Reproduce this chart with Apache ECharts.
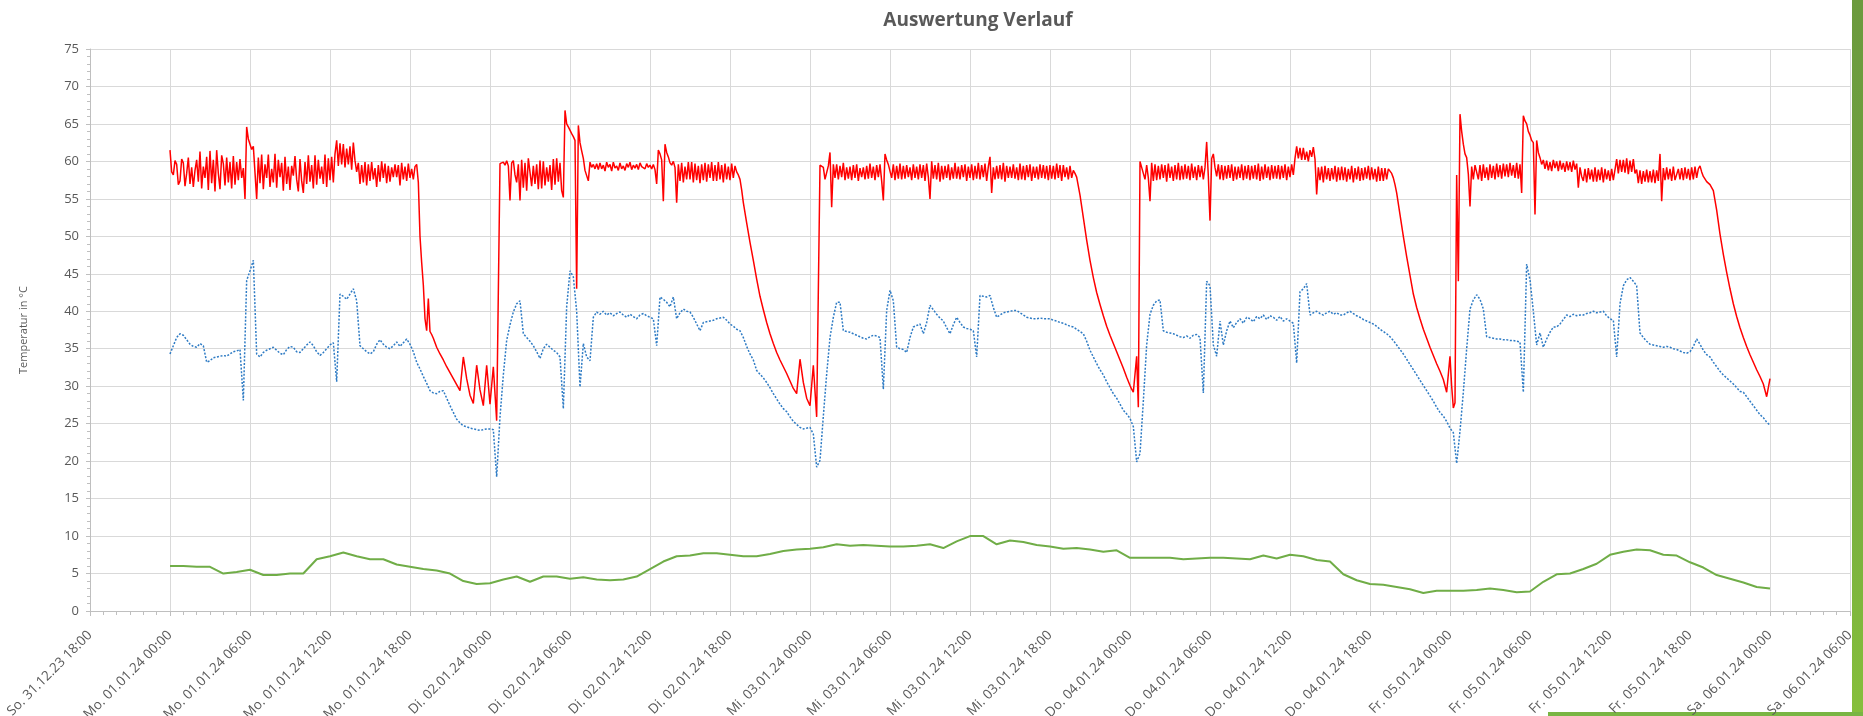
<!DOCTYPE html>
<html>
<head>
<meta charset="utf-8">
<script src="https://cdn.jsdelivr.net/npm/echarts@6/dist/echarts.min.js"></script>
<style>
html,body{margin:0;padding:0;background:#fff;}
#chart{width:1863px;height:716px;}
</style>
</head>
<body>
<div id="chart"></div>
<script>
// x axis tick labels, one every 6 hours starting at So. 31.12.23 18:00 (hour -6)
const tickLabels = [
  'So. 31.12.23 18:00',
  'Mo. 01.01.24 00:00','Mo. 01.01.24 06:00','Mo. 01.01.24 12:00','Mo. 01.01.24 18:00',
  'Di. 02.01.24 00:00','Di. 02.01.24 06:00','Di. 02.01.24 12:00','Di. 02.01.24 18:00',
  'Mi. 03.01.24 00:00','Mi. 03.01.24 06:00','Mi. 03.01.24 12:00','Mi. 03.01.24 18:00',
  'Do. 04.01.24 00:00','Do. 04.01.24 06:00','Do. 04.01.24 12:00','Do. 04.01.24 18:00',
  'Fr. 05.01.24 00:00','Fr. 05.01.24 06:00','Fr. 05.01.24 12:00','Fr. 05.01.24 18:00',
  'Sa. 06.01.24 00:00','Sa. 06.01.24 06:00'
];

// red series: one row per hour since Mo. 01.01.24 00:00, samples evenly spread over the hour
const redRows = [
[61.5,58.6,58.2,60.1,59.6,56.9,57.4,60.3],
[59.8,56.7,58.4,60.5,57.0,59.2,56.6,58.8],
[60.2,57.3,61.3,56.4,59.3,57.8,60.6,56.2],
[61.4,57.1,60.2,56.0,61.5,58.4,56.3,60.8],
[59.7,56.8,60.5,57.2,59.9,56.4,60.7,56.9],
[59.9,57.5,60.3,57.8,59.1,55.0,64.6,63.0],
[62.3,61.6,62.0,61.8,55.0,60.5,57.1,60.9],
[56.3,59.6,57.8,60.9,56.6,59.0,57.2,61.0],
[56.5,60.2,57.9,59.8,56.1,60.6,57.0,59.3],
[56.2,59.4,58.1,60.7,57.6,56.0,60.3,57.4],
[55.8,59.9,57.0,60.8,57.3,59.5,56.4,60.8],
[56.9,60.2,57.7,59.3,57.0,60.9,56.6,60.4],
[57.5,60.6,57.2,61.0,62.8,59.4,62.4,59.6],
[62.3,59.2,61.7,59.6,62.0,58.9,62.5,60.1],
[58.6,59.8,57.0,59.5,57.2,59.9,56.8,59.6],
[57.4,59.9,57.6,59.1,56.6,59.5,57.3,60.0],
[57.8,59.7,57.1,59.4,57.3,59.2,57.9,59.6],
[57.9,59.5,56.8,59.8,57.6,59.3,57.4,59.7],
[57.8,59.0,57.6,59.3,59.6,57.2,50.0,46.5],
[43.5,39.0,37.4,41.7,37.3,36.9,36.4,35.8],
[35.2,34.3,33.5,32.6],
[31.8,31.0,30.2,29.4],
[33.9,31.0,28.8,27.7],
[32.8,29.5,27.4,32.8],
[27.6,32.6,25.4,59.7],
[59.9,59.5,60.1,59.4,54.8,59.8,60.1,58.2],
[57.2,59.6,54.8,60.2,56.5,59.8,56.1,60.4],
[60.2,56.7,59.4,57.0,59.6,56.3,60.1,56.4],
[60.0,56.8,59.2,57.3,59.5,56.2,60.3,56.9],
[60.4,57.3,59.8,56.1,55.2,66.8,65.0,64.6],
[64.6,63.7,63.3,62.8,43.0,64.8,62.5,61.4],
[60.4,58.8,58.1,57.4,59.9,59.2,59.6,59.0],
[59.7,58.9,59.8,59.0,59.5,58.7,59.9,59.2],
[59.6,58.7,59.9,59.1,59.4,58.8,59.8,59.0],
[59.4,58.8,59.7,59.2,59.9,58.9,59.5,59.1],
[59.6,58.9,59.8,59.3,59.5,59.0,59.7,59.2],
[59.5,59.0,59.6,58.9,57.0,61.5,61.0,60.2],
[54.7,62.3,61.2,60.6,59.8,59.5,60.0,59.2],
[54.5,59.6,57.4,59.8,57.2,59.3,57.6,59.9],
[57.6,59.9,57.2,59.7,57.5,59.4,57.1,59.6],
[57.5,59.8,57.3,59.6,57.8,59.9,57.4,59.5],
[57.4,59.9,57.6,59.5,57.2,59.7,57.6,59.3],
[57.5,59.7,57.8,59.4,58.6,58.2,57.6,56.2],
[54.5,51.8,49.2,46.8],
[44.3,42.0,40.2,38.5],
[37.0,35.7,34.5,33.5],
[32.6,31.7,30.7,29.7],
[29.0,33.6,30.5,28.4],
[27.4,32.8,25.9,59.5],
[59.2,57.6,57.8,59.4,61.2,53.9,59.6,57.8],
[59.6,57.6,59.4,57.9,59.8,57.5,59.2,57.7],
[59.3,57.5,59.5,57.8,59.6,57.4,59.1,57.9],
[59.2,57.6,59.4,57.7,59.7,57.8,59.3,57.5],
[59.5,57.9,59.6,57.4,54.8,61.0,60.2,59.6],
[59.8,57.8,59.6,57.5,59.4,57.7,59.7,57.6],
[59.4,57.7,59.5,57.9,59.2,57.5,59.6,57.8],
[59.3,57.6,59.6,57.8,59.5,57.4,59.7,57.9],
[55.0,60.0,57.7,59.5,57.6,59.8,57.3,59.4],
[57.6,59.4,57.8,59.6,57.5,59.2,57.7,59.8],
[57.7,59.3,57.6,59.5,57.9,59.6,57.4,59.3],
[57.8,59.6,57.5,59.4,57.7,59.8,57.6,59.5],
[57.9,59.7,57.4,59.3,60.6,55.8,59.2,57.6],
[59.4,57.7,59.5,57.6,59.8,57.3,59.4,57.8],
[59.3,57.8,59.6,57.7,59.2,57.5,59.7,57.6],
[59.4,57.5,59.5,57.9,59.6,57.4,59.3,57.8],
[59.3,57.6,59.6,57.8,59.5,57.7,59.4,57.5],
[59.5,57.7,59.4,57.6,59.7,57.8,59.5,57.4],
[59.5,57.9,59.2,57.6,59.4,57.8,58.8,58.4],
[57.9,55.5,52.5,49.5],
[46.8,44.5,42.5,40.9],
[39.4,38.0,36.8,35.7],
[34.6,33.5,32.4,31.2],
[30.1,29.6,29.2,29.0,34.0,27.2,60.0,59.2],
[59.3,57.6,59.5,57.8,54.7,59.8,57.4,59.6],
[57.5,59.4,57.6,59.6,57.8,59.5,57.3,59.7],
[57.8,59.3,57.4,59.5,57.6,59.8,57.5,59.4],
[57.6,59.6,57.7,59.4,57.5,59.7,57.8,59.3],
[57.5,59.5,57.9,59.4,57.6,59.2,62.6,58.0],
[52.1,60.4,61.0,59.2,58.0,59.6,57.6,59.5],
[57.5,59.4,57.7,59.5,57.8,59.6,57.4,59.3],
[57.6,59.3,57.8,59.6,57.5,59.4,57.7,59.5],
[57.5,59.4,57.7,59.5,57.6,59.7,57.4,59.3],
[57.6,59.6,57.8,59.3,57.5,59.5,57.7,59.4],
[57.7,59.5,57.6,59.4,57.8,59.6,57.5,59.3],
[57.9,59.6,58.2,60.4,62.0,60.4,61.8,60.2],
[61.8,60.2,61.3,60.0,61.5,60.6,61.9,60.3],
[55.6,59.2,57.5,59.3,57.2,59.4,57.6,59.1],
[57.4,59.1,57.6,59.4,57.3,59.2,57.5,59.3],
[57.5,59.2,57.3,59.0,57.6,59.4,57.2,59.1],
[57.6,59.3,57.4,59.1,57.5,59.2,57.7,59.4],
[57.5,59.2,57.6,59.0,57.3,59.3,57.4,59.1],
[57.4,59.1,57.6,59.0,58.8,58.4,57.8,56.9],
[55.8,52.9,50.0,47.3],
[44.8,42.3,40.5,39.0],
[37.6,36.4,35.2,34.1],
[33.0,32.0,30.9,29.2],
[34.0,30.0,27.1,27.8,58.2,44.0,66.3,64.0],
[62.3,61.0,60.5,58.3,54.0,59.3,57.6,59.5],
[59.3,57.6,59.5,57.4,59.6,57.8,59.2,57.5],
[59.6,57.8,59.4,57.6,59.7,57.9,59.5,57.7],
[59.7,58.0,59.6,57.9,59.8,58.1,59.5,57.8],
[59.8,57.7,59.6,55.8,66.1,65.4,65.0,64.0],
[63.5,62.8,62.5,52.9,62.8,61.2,60.5,59.6],
[60.2,59.0,60.1,58.8,59.9,58.7,60.2,59.1],
[60.0,58.7,60.1,58.9,59.8,58.6,60.0,58.8],
[59.9,58.6,60.1,58.9,59.7,56.5,59.2,58.0],
[57.4,59.0,57.2,59.1,57.6,58.9,57.3,59.2],
[57.3,58.9,57.5,59.2,57.2,59.0,57.6,58.8],
[57.4,59.0,57.5,58.9,60.3,58.4,60.2,58.6],
[60.2,58.5,60.4,58.3,60.1,58.6,60.3,58.4],
[58.9,57.1,58.8,57.0,58.7,57.3,58.9,57.2],
[58.7,57.2,58.9,57.1,58.8,57.4,61.0,54.7],
[59.1,57.5,59.2,57.6,59.0,57.4,59.3,57.5],
[57.4,59.0,57.6,59.1,57.5,59.2,57.7,59.0],
[57.5,59.2,57.6,59.3,57.8,59.0,59.4,58.6],
[58.0,57.3,56.9,56.1],
[53.5,50.3,47.6,45.2],
[43.0,41.0,39.3,37.8],
[36.5,35.3,34.2,33.2],
[32.2,31.3,30.3,28.6],
[31.0]
];

// blue series: one row per hour, values every 15 minutes
const blueRows = [
[34.3,35.4,36.5,37.0],
[36.8,36.2,35.6,35.3],
[35.2,35.7,35.4,33.2],
[33.4,33.8,33.9,34.0],
[34.1,34.0,34.3,34.6],
[34.7,34.9,28.1,44.1],
[45.4,46.8,34.3,33.9],
[34.5,34.8,35.0,35.2],
[34.8,34.4,34.2,34.9],
[35.3,35.2,34.6,34.5],
[35.0,35.5,35.9,35.4],
[34.6,34.1,34.5,35.0],
[35.5,35.8,30.6,42.3],
[42.0,41.6,42.3,43.0],
[41.4,35.4,35.0,34.6],
[34.3,34.6,35.6,36.2],
[35.6,35.2,35.0,35.4],
[35.9,35.3,35.8,36.3],
[35.6,34.6,33.2,32.3],
[31.3,30.4,29.4,29.1],
[29.0,29.3,29.4,28.4],
[27.4,26.5,25.6,25.1],
[24.7,24.6,24.4,24.3],
[24.2,24.1,24.2,24.3],
[24.3,24.2,17.9,25.9],
[31.5,36.1,38.2,39.9],
[41.0,41.4,37.0,36.5],
[36.0,35.4,34.6,33.7],
[35.0,35.6,35.2,34.8],
[34.5,33.9,27.0,40.6],
[45.4,44.6,40.0,29.9],
[35.7,33.9,33.4,39.2],
[39.9,39.6,40.0,39.5],
[39.8,39.4,39.7,39.9],
[39.5,39.2,39.6,39.3],
[39.0,39.5,39.7,39.4],
[39.2,39.0,35.4,41.9],
[41.6,41.2,40.6,41.9],
[39.0,39.8,40.3,40.0],
[39.9,39.2,38.3,37.4],
[38.5,38.6,38.7,38.8],
[39.0,39.1,39.2,38.8],
[38.3,38.0,37.6,37.4],
[36.5,35.3,34.3,33.5],
[32.1,31.6,31.1,30.5],
[29.8,29.0,28.3,27.6],
[27.0,26.6,25.9,25.3],
[24.9,24.5,24.3,24.4],
[24.5,23.6,19.2,20.1],
[26.0,31.6,36.5,39.2],
[41.2,41.2,37.4,37.3],
[37.2,37.0,36.8,36.6],
[36.4,36.3,36.6,36.8],
[36.7,36.5,29.6,40.1],
[42.8,41.4,35.2,35.0],
[34.9,34.5,36.5,37.9],
[38.1,38.3,37.0,38.5],
[40.8,40.2,39.6,39.1],
[38.7,37.8,37.0,38.2],
[39.2,38.5,37.9,37.7],
[37.6,37.4,33.9,42.1],
[42.0,41.9,42.1,40.5],
[39.2,39.5,39.8,39.9],
[40.0,40.1,40.1,39.8],
[39.5,39.2,39.1,39.0],
[39.0,39.1,39.0,39.0],
[39.0,38.8,38.7,38.5],
[38.4,38.2,38.0,37.9],
[37.6,37.3,37.0,36.0],
[34.8,33.9,33.0,32.2],
[31.5,30.6,29.8,29.0],
[28.4,27.6,26.8,26.3],
[25.7,24.6,19.9,21.0],
[28.0,35.5,39.6,40.8],
[41.4,41.5,37.4,37.2],
[37.1,37.0,36.8,36.6],
[36.5,36.7,36.4,36.8],
[36.9,36.5,29.1,44.0],
[43.4,35.5,34.0,38.7],
[35.5,37.4,38.7,37.8],
[38.5,39.0,38.4,39.2],
[39.0,38.6,39.3,39.0],
[39.5,38.9,39.4,39.2],
[38.8,39.3,38.7,39.0],
[38.7,38.4,33.1,42.6],
[43.0,43.7,39.5,39.8],
[40.0,39.7,39.5,39.8],
[40.0,39.6,39.8,39.5],
[39.5,39.8,40.0,39.7],
[39.4,39.2,38.9,38.7],
[38.5,38.3,38.0,37.6],
[37.3,37.0,36.6,36.1],
[35.5,34.9,34.3,33.6],
[32.9,32.2,31.5,30.8],
[30.1,29.4,28.7,28.0],
[27.2,26.5,26.0,25.3],
[24.4,23.8,19.7,24.0],
[29.2,35.0,40.3,41.5],
[42.2,41.6,40.3,36.6],
[36.5,36.4,36.3,36.3],
[36.2,36.2,36.1,36.1],
[36.0,35.9,29.2,46.3],
[44.2,40.0,35.5,37.1],
[35.2,36.3,37.2,37.9],
[37.9,38.3,38.9,39.5],
[39.3,39.6,39.4,39.5],
[39.5,39.7,39.8,40.0],
[39.8,39.9,40.0,39.4],
[39.0,38.8,33.9,41.0],
[43.4,44.2,44.5,44.0],
[43.4,37.1,36.5,36.0],
[35.6,35.5,35.4,35.3],
[35.2,35.3,35.2,35.0],
[34.9,34.7,34.5,34.4],
[34.6,35.3,36.3,35.6],
[34.8,34.2,33.9,33.2],
[32.6,32.0,31.5,31.1],
[30.7,30.3,29.8,29.3],
[29.2,28.6,28.0,27.4],
[26.8,26.2,25.8,25.2],
[24.8]
];

// green series: hourly values since Mo. 01.01.24 00:00
const greenValues = [
6.0,6.0,5.9,5.9,5.0,5.2,5.5,4.8,4.8,5.0,5.0,6.9,7.3,7.8,7.3,6.9,6.9,6.2,5.9,5.6,
5.4,5.0,4.0,3.6,3.7,4.2,4.6,3.9,4.6,4.6,4.3,4.5,4.2,4.1,4.2,4.6,5.6,6.6,7.3,7.4,
7.7,7.7,7.5,7.3,7.3,7.6,8.0,8.2,8.3,8.5,8.9,8.7,8.8,8.7,8.6,8.6,8.7,8.9,8.4,9.3,
10.0,10.0,8.9,9.4,9.2,8.8,8.6,8.3,8.4,8.2,7.9,8.1,7.1,7.1,7.1,7.1,6.9,7.0,7.1,7.1,
7.0,6.9,7.4,7.0,7.5,7.3,6.8,6.6,4.9,4.1,3.6,3.5,3.2,2.9,2.4,2.7,2.7,2.7,2.8,3.0,
2.8,2.5,2.6,3.9,4.9,5.0,5.6,6.3,7.5,7.9,8.2,8.1,7.5,7.4,6.5,5.8,4.8,4.3,3.8,3.2,
3.0
];

const yTicks = [0,5,10,15,20,25,30,35,40,45,50,55,60,65,70,75];

function rowsToPoints(rows) {
  const pts = [];
  rows.forEach((row, h) => row.forEach((v, j) => pts.push([h + j / row.length, v])));
  return pts;
}
const redData = rowsToPoints(redRows);
const blueData = rowsToPoints(blueRows);
const greenData = greenValues.map((v, i) => [i, v]);

const FONT = '"Open Sans", "Noto Sans", sans-serif';
const chart = echarts.init(document.getElementById('chart'), null, {renderer: 'canvas'});
chart.setOption({
  animation: false,
  backgroundColor: '#ffffff',
  grid: {left: 90, right: 13, top: 49, bottom: 105, containLabel: false, outerBoundsMode: 'none'},
  xAxis: {
    type: 'value', min: -6, max: 126, interval: 6,
    axisLine: {show: true, onZero: false, lineStyle: {color: '#bfbfbf', width: 1}},
    axisTick: {show: true, length: 5, lineStyle: {color: '#bfbfbf'}},
    minorTick: {show: true, splitNumber: 6, length: 4, lineStyle: {color: '#bfbfbf'}},
    splitLine: {show: true, lineStyle: {color: '#d9d9d9', width: 1}},
    axisLabel: {
      rotate: 45, margin: 22, fontSize: 13.5, color: '#595959', fontFamily: FONT,
      showMinLabel: true, showMaxLabel: true,
      formatter: v => tickLabels[Math.round((v + 6) / 6)] || ''
    }
  },
  yAxis: {
    type: 'value', min: yTicks[0], max: yTicks[yTicks.length - 1], interval: 5,
    name: 'Temperatur in °C', nameLocation: 'middle', nameGap: 61, nameRotate: 90,
    nameTextStyle: {fontSize: 11, color: '#595959', fontFamily: FONT},
    axisLine: {show: true, onZero: false, lineStyle: {color: '#bfbfbf', width: 1}},
    axisTick: {show: true, length: 4, lineStyle: {color: '#bfbfbf'}},
    minorTick: {show: true, splitNumber: 5, length: 3, lineStyle: {color: '#bfbfbf'}},
    splitLine: {show: true, lineStyle: {color: '#d9d9d9', width: 1}},
    axisLabel: {margin: 11, fontSize: 13, color: '#595959', fontFamily: FONT}
  },
  series: [
    {
      name: 'Außentemperatur', type: 'line', data: greenData, showSymbol: false, symbol: 'none',
      lineStyle: {color: '#70ad47', width: 2}, itemStyle: {color: '#70ad47'}
    },
    {
      name: 'Rücklauf', type: 'line', data: blueData, showSymbol: false, symbol: 'none',
      lineStyle: {color: '#2e7bc4', width: 1.5, type: [2, 1.6]}, itemStyle: {color: '#2e7bc4'}
    },
    {
      name: 'Vorlauf', type: 'line', data: redData, showSymbol: false, symbol: 'none',
      lineStyle: {color: '#ff0000', width: 1.5}, itemStyle: {color: '#ff0000'}
    }
  ],
  graphic: [
    {type: 'text', x: 978, y: 21, style: {text: 'Auswertung Verlauf', align: 'center', verticalAlign: 'middle',
      fontSize: 19, fontWeight: 'bold', fontFamily: FONT, fill: '#595959'}},
    {type: 'rect', shape: {x: 1852, y: 0, width: 11, height: 716},
      style: {fill: new echarts.graphic.LinearGradient(0, 0, 0, 1, [
        {offset: 0, color: '#6c9a3e'}, {offset: 0.55, color: '#72a83f'}, {offset: 1, color: '#86bf3c'}])}},
    {type: 'rect', shape: {x: 1548, y: 712, width: 315, height: 4}, style: {fill: '#79b543'}}
  ]
});
</script>
</body>
</html>
